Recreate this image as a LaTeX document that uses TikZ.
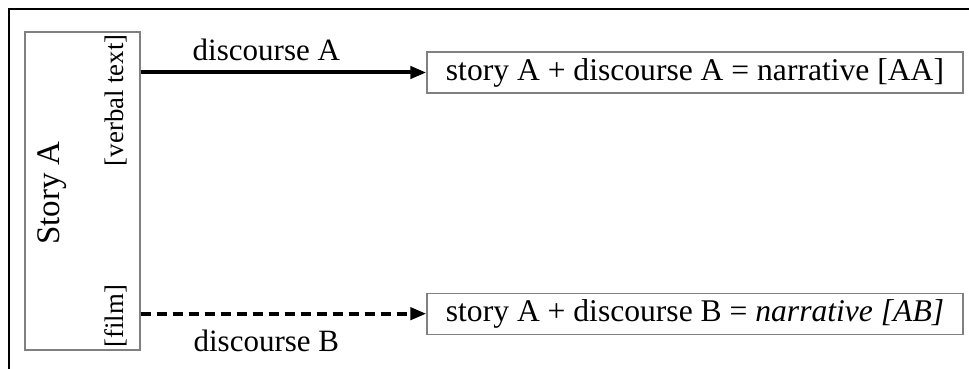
\documentclass[tikz,border=0pt]{standalone}
\usepackage{fontspec}
\setmainfont{Liberation Serif}
\usepackage{tikz}
\usetikzlibrary{arrows.meta,positioning,calc}
\definecolor{cadre}{HTML}{808080}
\tikzset{
  storybox/.style={rectangle, draw=cadre, line width=0.6pt, inner sep=0pt,
                   minimum width=57.5pt, minimum height=159pt},
  narrbox/.style={rectangle, draw=cadre, line width=0.6pt, inner sep=0pt,
                  minimum width=268pt, minimum height=20.5pt, font=\fontsize{15.8}{18}\selectfont},
  sidelbl/.style={rotate=90, inner sep=0pt, font=\fontsize{13.4}{15}\selectfont},
  lbl/.style={font=\fontsize{15.5}{18}\selectfont},
  arr/.style={-{Triangle[length=8pt, width=6pt]}, line width=2pt},
}
\begin{document}
\begin{tikzpicture}
    \useasboundingbox (0,0) rectangle (484.5pt,184.5pt);
    % outer frame (top and left only)
    \draw[line width=0.75pt] (4.5pt,0) -- (4.5pt,180pt) -- (484.5pt,180pt);
    \node[storybox] (story) at (41.25pt,89pt) {};
    \node[rotate=90, inner sep=0pt, font=\fontsize{16.5}{19}\selectfont] (title) at (26pt,88pt) {Story A};
    \node[sidelbl, anchor=east] (verbal) at (58pt,167.5pt) {[verbal text]};
    \node[sidelbl, anchor=west] (film) at (58pt,10.5pt) {[film]};
    \node[narrbox] (aa) at (347.5pt,148.25pt) {story A + discourse A = narrative [AA]};
    \node[narrbox, below=99.5pt of aa] (ab) {story A + discourse B = \textit{narrative [AB]}};
    \draw[arr] (story.east |- aa.west) -- node[lbl, above=1.5pt, pos=0.44] {discourse A} (aa.west);
    \draw[arr, dash pattern=on 5pt off 3pt] (story.east |- ab.west) -- node[lbl, below=4pt, pos=0.44] {discourse B} (ab.west);
  \end{tikzpicture}
\end{document}
